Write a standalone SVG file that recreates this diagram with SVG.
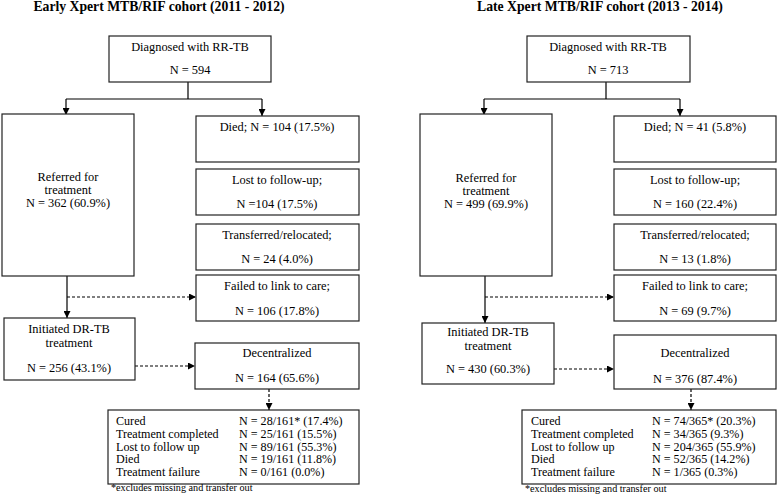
<svg xmlns="http://www.w3.org/2000/svg" width="778" height="495" viewBox="0 0 778 495">
<defs>
<marker id="ah" viewBox="0 0 8 8" refX="8" refY="4" markerWidth="7" markerHeight="7" markerUnits="userSpaceOnUse" orient="auto">
<path d="M0,0 L8,4 L0,8 z" fill="#000"/>
</marker>
</defs>
<style>
text{font-family:"Liberation Serif","Times New Roman",serif;font-size:12.4px;fill:#000}
.c{text-anchor:middle}
.t{font-weight:bold;font-size:13.7px}
.o{font-size:12.1px}
.f{font-size:10.2px}
rect{fill:#fff;stroke:#222;stroke-width:1.2}
.ln{fill:none;stroke:#000;stroke-width:1.2}
.d{stroke-dasharray:3,2}
</style>
<rect x="0" y="0" width="778" height="495" style="fill:#fff;stroke:none"/>
<text class="t c" x="159" y="11">Early Xpert MTB/RIF cohort (2011 - 2012)</text>
<text class="t c" x="600" y="11">Late Xpert MTB/RIF cohort (2013 - 2014)</text>

<g id="connectors">
<path class="ln" d="M188,82 V99 M66,99 H262" />
<path class="ln" d="M66,99 V115" marker-end="url(#ah)"/>
<path class="ln" d="M262,99 V116" marker-end="url(#ah)"/>
<path class="ln" d="M67,276 V318" marker-end="url(#ah)"/>
<path class="ln d" d="M67,297 H196" marker-end="url(#ah)"/>
<path class="ln d" d="M135,366 H195" marker-end="url(#ah)"/>
<path class="ln d" d="M269,389 V410" marker-end="url(#ah)"/>

<path class="ln" d="M606,82 V99 M484,99 H680" />
<path class="ln" d="M484,99 V115" marker-end="url(#ah)"/>
<path class="ln" d="M680,99 V116" marker-end="url(#ah)"/>
<path class="ln" d="M485,276 V323" marker-end="url(#ah)"/>
<path class="ln d" d="M485,297 H614" marker-end="url(#ah)"/>
<path class="ln d" d="M554,369 H614" marker-end="url(#ah)"/>
<path class="ln d" d="M691,389 V410" marker-end="url(#ah)"/>
</g>

<g id="L-diagnosed"><rect x="109" y="36" width="162" height="46"/>
<text class="c" x="190" y="51">Diagnosed with RR-TB</text><text class="c" x="190" y="74">N = 594</text></g>
<g id="L-referred"><rect x="2" y="114" width="132" height="162"/>
<text class="c" x="68" y="181">Referred for</text><text class="c" x="68" y="194">treatment</text><text class="c" x="68" y="207">N = 362 (60.9%)</text></g>
<g id="L-died"><rect x="196" y="116" width="163" height="46"/>
<text class="c" x="277" y="131">Died; N = 104 (17.5%)</text></g>
<g id="L-lost"><rect x="196" y="169" width="163" height="46"/>
<text class="c" x="277" y="184">Lost to follow-up;</text><text class="c" x="277" y="208">N =104 (17.5%)</text></g>
<g id="L-transferred"><rect x="196" y="224" width="163" height="46"/>
<text class="c" x="277" y="239">Transferred/relocated;</text><text class="c" x="277" y="263">N = 24 (4.0%)</text></g>
<g id="L-failed"><rect x="196" y="275" width="163" height="46"/>
<text class="c" x="277" y="290">Failed to link to care;</text><text class="c" x="277" y="315">N = 106 (17.8%)</text></g>
<g id="L-initiated"><rect x="4" y="318" width="131" height="62"/>
<text class="c" x="69" y="333">Initiated DR-TB</text><text class="c" x="69" y="347">treatment</text><text class="c" x="69" y="372">N = 256 (43.1%)</text></g>
<g id="L-decentralized"><rect x="195" y="343" width="164" height="46"/>
<text class="c" x="277" y="357">Decentralized</text><text class="c" x="277" y="382">N = 164 (65.6%)</text></g>
<g id="L-outcomes"><rect x="108" y="410" width="251" height="74"/>
<text class="o" x="116" y="425">Cured</text><text class="o" x="239" y="425">N = 28/161* (17.4%)</text>
<text class="o" x="116" y="438">Treatment completed</text><text class="o" x="239" y="438">N = 25/161 (15.5%)</text>
<text class="o" x="116" y="450.5">Lost to follow up</text><text class="o" x="239" y="450.5">N = 89/161 (55.3%)</text>
<text class="o" x="116" y="463">Died</text><text class="o" x="239" y="463">N = 19/161 (11.8%)</text>
<text class="o" x="116" y="476">Treatment failure</text><text class="o" x="239" y="476">N = 0/161 (0.0%)</text>
<text class="f" x="111" y="491">*excludes missing and transfer out</text></g>

<g id="R-diagnosed"><rect x="527" y="36" width="163" height="46"/>
<text class="c" x="608" y="51">Diagnosed with RR-TB</text><text class="c" x="608" y="74">N = 713</text></g>
<g id="R-referred"><rect x="420" y="114" width="132" height="162"/>
<text class="c" x="486" y="182">Referred for</text><text class="c" x="486" y="195">treatment</text><text class="c" x="486" y="208">N = 499 (69.9%)</text></g>
<g id="R-died"><rect x="614" y="116" width="162" height="46"/>
<text class="c" x="695" y="131">Died; N = 41 (5.8%)</text></g>
<g id="R-lost"><rect x="614" y="169" width="162" height="46"/>
<text class="c" x="695" y="184">Lost to follow-up;</text><text class="c" x="695" y="208">N = 160 (22.4%)</text></g>
<g id="R-transferred"><rect x="614" y="224" width="162" height="46"/>
<text class="c" x="695" y="239">Transferred/relocated;</text><text class="c" x="695" y="263">N = 13 (1.8%)</text></g>
<g id="R-failed"><rect x="614" y="275" width="162" height="46"/>
<text class="c" x="695" y="290">Failed to link to care;</text><text class="c" x="695" y="315">N = 69 (9.7%)</text></g>
<g id="R-initiated"><rect x="422" y="323" width="132" height="61"/>
<text class="c" x="488" y="336">Initiated DR-TB</text><text class="c" x="488" y="349.5">treatment</text><text class="c" x="488" y="373">N = 430 (60.3%)</text></g>
<g id="R-decentralized"><rect x="614" y="335" width="162" height="54"/>
<text class="c" x="695" y="357">Decentralized</text><text class="c" x="695" y="383">N = 376 (87.4%)</text></g>
<g id="R-outcomes"><rect x="522" y="410" width="254" height="74"/>
<text class="o" x="531" y="425">Cured</text><text class="o" x="652" y="425">N = 74/365* (20.3%)</text>
<text class="o" x="531" y="438">Treatment completed</text><text class="o" x="652" y="438">N = 34/365 (9.3%)</text>
<text class="o" x="531" y="450.5">Lost to follow up</text><text class="o" x="652" y="450.5">N = 204/365 (55.9%)</text>
<text class="o" x="531" y="463">Died</text><text class="o" x="652" y="463">N = 52/365 (14.2%)</text>
<text class="o" x="531" y="476">Treatment failure</text><text class="o" x="652" y="476">N = 1/365 (0.3%)</text>
<text class="f" x="525" y="492">*excludes missing and transfer out</text></g>
</svg>
